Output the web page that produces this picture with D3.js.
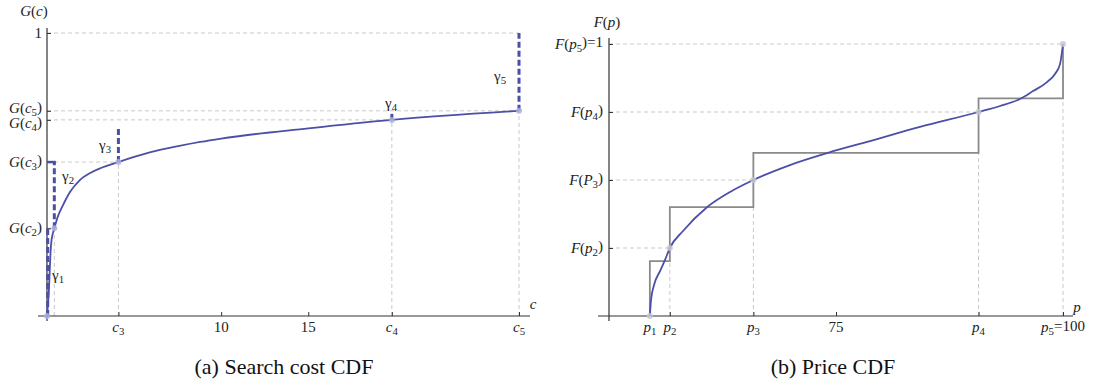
<!DOCTYPE html>
<html><head><meta charset="utf-8">
<script src="https://cdn.jsdelivr.net/npm/d3@7"></script>
<style>body{margin:0;background:#fff} svg{display:block}</style>
</head><body>
<svg id="c" width="1093" height="389"></svg>
<script>
// ---------- data: (a) search cost CDF ----------
const cKnots = [0, 0.42, 4.1, 19.8, 27.1];
const gKnots = [0, 0.31, 0.544, 0.693, 0.725];
const curveC = [0, 0.11, 0.17, 0.23, 0.34, 0.42, 0.63, 0.92, 1.32, 1.90, 2.76, 4.1, 5.9, 7.6, 8.8, 10, 15, 19.8, 27.1];
const curveG = [0, 0.092, 0.180, 0.251, 0.293, 0.31, 0.353, 0.392, 0.438, 0.481, 0.514, 0.544, 0.578, 0.601, 0.615, 0.627, 0.663, 0.693, 0.725];
const gammaNames = ["γ_1", "γ_2", "γ_3", "γ_4", "γ_5"];
const gammaFrom = [0, 0.31, 0.544, 0.693, 0.725];
const gammaTo = [0.31, 0.544, 0.671, 0.72, 1];
const leftXTickValues = [4.1, 10, 15, 19.8, 27.1];
const leftXTickLabels = ["c_3", "10", "15", "c_4", "c_5"];
const leftYTickValues = [1, 0.725, 0.693, 0.544, 0.31];
const leftYTickLabels = ["1", "G(c_5)", "G(c_4)", "G(c_3)", "G(c_2)"];

// ---------- data: (b) price CDF ----------
const pKnots = [54.5, 56.7, 65.9, 90.7, 100];
const fKnots = [0, 0.25, 0.5, 0.75, 1];
const stepLevels = [0.202, 0.40, 0.60, 0.80, 1.0];
const curveP = [54.5, 54.63, 54.96, 55.62, 56.17, 56.7, 58.15, 60.79, 63.33, 65.9, 69.93, 74.12, 78.74, 84.25, 90.7, 93.06, 95.26, 96.70, 98.24, 99.12, 99.67, 100];
const curveF = [0, 0.059, 0.114, 0.165, 0.206, 0.25, 0.3125, 0.40, 0.456, 0.50, 0.555, 0.60, 0.643, 0.695, 0.75, 0.772, 0.798, 0.827, 0.860, 0.890, 0.926, 1.0];
const rightXTickValues = [54.5, 56.7, 65.9, 75, 90.7, 100];
const rightXTickLabels = ["p_1", "p_2", "p_3", "75", "p_4", "p_5=100"];
const rightYTickValues = [1, 0.75, 0.5, 0.25];
const rightYTickLabels = ["F(p_5)=1", "F(p_4)", "F(P_3)", "F(p_2)"];

const captions = ["(a) Search cost CDF", "(b) Price CDF"];

// ---------- pick an available serif font ----------
const FONT = (function () {
  const cands = ["Liberation Serif", "Times New Roman", "Tinos", "Nimbus Roman", "Noto Serif", "DejaVu Serif", "FreeSerif"];
  const ctx = document.createElement("canvas").getContext("2d");
  const s = "mmmmmmmmmmlliWWQ(a) Search cost";
  ctx.font = "40px monospace"; const wm = ctx.measureText(s).width;
  ctx.font = "40px sans-serif"; const ws = ctx.measureText(s).width;
  for (const f of cands) {
    ctx.font = `40px "${f}", monospace`; const a = ctx.measureText(s).width;
    ctx.font = `40px "${f}", sans-serif`; const b = ctx.measureText(s).width;
    if (a !== wm || b !== ws) return `"${f}", serif`;
  }
  return "serif";
})();

// ---------- helpers ----------
const svg = d3.select("#c");
const BLUE = "#4b4fa6", GRID = "#c9c9c9", AX = "#333";
const FS = 15;

function richText(g, str, x, y, anchor) {
  const t = g.append("text").attr("x", x).attr("y", y).attr("text-anchor", anchor || "middle")
    .style("font-family", FONT).style("font-size", FS + "px").attr("fill", "#222");
  let sub = false;
  for (let i = 0; i < str.length; i++) {
    let ch = str[i];
    if (ch === "_") { i++; ch = str[i];
      t.append("tspan").attr("dy", "0.3em").style("font-size", "0.72em").text(ch);
      sub = true; continue; }
    const ts = t.append("tspan").text(ch);
    if (sub) { ts.attr("dy", "-0.3em"); sub = false; }
    if (/[A-Za-z]/.test(ch)) ts.style("font-style", "italic");
  }
  return t;
}
function dashed(g, x1, y1, x2, y2) {
  g.append("line").attr("x1", x1).attr("y1", y1).attr("x2", x2).attr("y2", y2)
    .attr("stroke", GRID).attr("stroke-width", 1).attr("stroke-dasharray", "4,3");
}

// ---------- panel (a) ----------
{
  const g = svg.append("g");
  const x = d3.scaleLinear().domain([0, 27.1]).range([47, 519]);
  const y = d3.scaleLinear().domain([0, 1]).range([316, 33]);

  dashed(g, x(0), y(1), x(cKnots[4]), y(1));
  for (let i = 1; i < 5; i++) {
    dashed(g, x(0), y(gKnots[i]), x(cKnots[i]), y(gKnots[i]));
    dashed(g, x(cKnots[i]), y(0), x(cKnots[i]), y(gKnots[i]));
  }

  g.append("g").attr("transform", `translate(0,${y(0)})`)
    .call(d3.axisBottom(x).tickValues(leftXTickValues).tickSize(-4).tickFormat(""))
    .call(a => { a.select(".domain").remove(); a.selectAll("line").attr("stroke", AX); });
  g.append("g").attr("transform", `translate(${x(0)},0)`)
    .call(d3.axisRight(y).tickValues(leftYTickValues).tickSize(4).tickFormat(""))
    .call(a => { a.select(".domain").remove(); a.selectAll("line").attr("stroke", AX); });
  g.append("line").attr("x1", 38).attr("x2", 530).attr("y1", y(0)).attr("y2", y(0)).attr("stroke", AX).attr("stroke-width", 1.2);
  g.append("line").attr("x1", x(0)).attr("x2", x(0)).attr("y1", 321).attr("y2", 28).attr("stroke", AX).attr("stroke-width", 1.2);

  leftXTickValues.forEach((v, i) => richText(g, leftXTickLabels[i], x(v), 332, "middle"));
  const yOff = [4.5, 2, 8, 4.5, 4.5];
  leftYTickValues.forEach((v, i) => richText(g, leftYTickLabels[i], 42, y(v) + yOff[i], "end"));
  richText(g, "G(c)", 34, 16, "middle");
  richText(g, "c", 533, 309, "middle");

  const line = d3.line().x(d => x(d[0])).y(d => y(d[1])).curve(d3.curveMonotoneX);
  g.append("path").datum(d3.zip(curveC, curveG)).attr("d", line)
    .attr("fill", "none").attr("stroke", BLUE).attr("stroke-width", 1.8);

  const gx = [cKnots[0] + 0.04, cKnots[1], cKnots[2], cKnots[3], cKnots[4]];
  gammaNames.forEach((nm, i) => {
    g.append("line").attr("x1", x(gx[i])).attr("x2", x(gx[i])).attr("y1", y(gammaFrom[i])).attr("y2", y(gammaTo[i]))
      .attr("stroke", BLUE).attr("stroke-width", 3).attr("stroke-dasharray", "6,3");
  });
  g.append("line").attr("x1", x(0)).attr("x2", x(cKnots[1]) + 1.5).attr("y1", y(gammaTo[1])).attr("y2", y(gammaTo[1]))
    .attr("stroke", BLUE).attr("stroke-width", 2.5);
  const gLab = [[52, 280], [62, 181], [99, 150], [385, 108], [494, 81]];
  gammaNames.forEach((nm, i) => richText(g, nm, gLab[i][0], gLab[i][1], "start"));

  cKnots.forEach((c, i) => g.append("circle").attr("cx", x(c)).attr("cy", y(gKnots[i])).attr("r", 3)
    .attr("fill", "#aeb2dc").attr("opacity", 0.85));

  svg.append("text").attr("x", 284).attr("y", 374).attr("text-anchor", "middle")
    .style("font-family", FONT).style("font-size", "22px").attr("fill", "#111").text(captions[0]);
}

// ---------- panel (b) ----------
{
  const g = svg.append("g");
  const x = d3.scaleLinear().domain([50, 100]).range([609, 1063]);
  const y = d3.scaleLinear().domain([0, 1]).range([316, 44]);

  for (let i = 1; i < 5; i++) {
    dashed(g, x(50), y(fKnots[i]), x(pKnots[i]), y(fKnots[i]));
    dashed(g, x(pKnots[i]), y(0), x(pKnots[i]), y(fKnots[i]));
  }

  g.append("g").attr("transform", `translate(0,${y(0)})`)
    .call(d3.axisBottom(x).tickValues(rightXTickValues).tickSize(-4).tickFormat(""))
    .call(a => { a.select(".domain").remove(); a.selectAll("line").attr("stroke", AX); });
  g.append("g").attr("transform", `translate(${x(50)},0)`)
    .call(d3.axisRight(y).tickValues(rightYTickValues).tickSize(4).tickFormat(""))
    .call(a => { a.select(".domain").remove(); a.selectAll("line").attr("stroke", AX); });
  g.append("line").attr("x1", 598).attr("x2", 1073).attr("y1", y(0)).attr("y2", y(0)).attr("stroke", AX).attr("stroke-width", 1.2);
  g.append("line").attr("x1", x(50)).attr("x2", x(50)).attr("y1", 321).attr("y2", 38).attr("stroke", AX).attr("stroke-width", 1.2);

  rightXTickValues.forEach((v, i) => richText(g, rightXTickLabels[i], x(v), 332, "middle"));
  rightYTickValues.forEach((v, i) => richText(g, rightYTickLabels[i], 603, y(v) + 4.5, "end"));
  richText(g, "F(p)", 607, 27, "middle");
  richText(g, "p", 1077, 312, "middle");

  const stepData = [[pKnots[0], 0]].concat(pKnots.map((p, i) => [p, stepLevels[i]]));
  g.append("path").datum(stepData)
    .attr("d", d3.line().x(d => x(d[0])).y(d => y(d[1])).curve(d3.curveStepAfter))
    .attr("fill", "none").attr("stroke", "#8a8a8a").attr("stroke-width", 1.8);

  const line = d3.line().x(d => x(d[0])).y(d => y(d[1])).curve(d3.curveMonotoneX);
  g.append("path").datum(d3.zip(curveP, curveF)).attr("d", line)
    .attr("fill", "none").attr("stroke", BLUE).attr("stroke-width", 1.8);

  pKnots.forEach((p, i) => g.append("circle").attr("cx", x(p)).attr("cy", y(fKnots[i])).attr("r", 3)
    .attr("fill", "#c6c6d2").attr("opacity", 0.85));

  svg.append("text").attr("x", 833).attr("y", 374).attr("text-anchor", "middle")
    .style("font-family", FONT).style("font-size", "22px").attr("fill", "#111").text(captions[1]);
}
</script>
</body></html>
